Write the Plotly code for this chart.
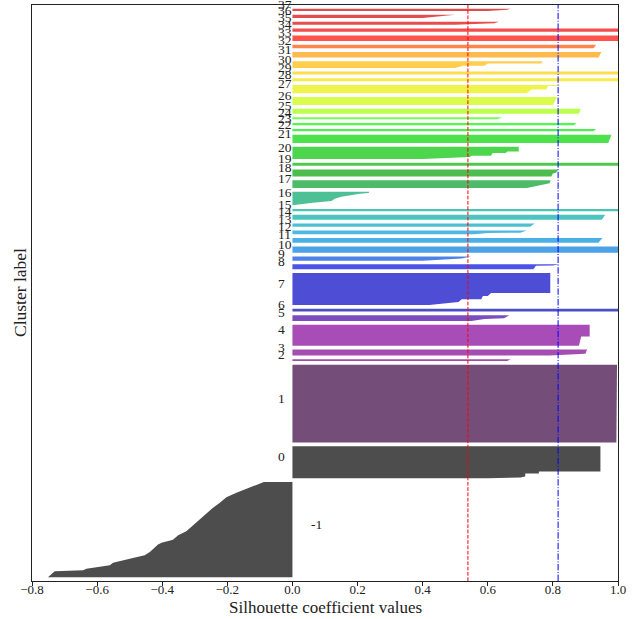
import plotly.graph_objects as go

# ---------------- data ----------------
cluster_ids = list(range(-1, 38))
n_color_clusters = 39

cluster_sizes = [256, 86, 209, 5, 16, 57, 15, 8, 86, 13, 11, 17, 13, 10, 9, 13, 6, 36, 21, 19,
                 8, 33, 22, 6, 6, 5, 13, 22, 22, 8, 8, 18, 15, 9, 15, 9, 8, 9, 6]

# sorted silhouette profile of each cluster: rank (from the lowest value) and value
profile_ranks = [
    [0, 16, 19, 23, 32, 39, 52, 59, 68, 88, 93, 101, 113, 124, 140, 164, 187, 200, 215, 227, 242, 254, 256],
    [0, 2, 5, 13, 13, 18, 18, 86],
    [0, 209],
    [0, 5],
    [0, 3, 5, 16],
    [0, 25, 25, 57],
    [0, 5, 7, 15],
    [0, 8],
    [0, 3, 5, 8, 15, 15, 24, 24, 32, 32, 86],
    [0, 9, 10, 13],
    [0, 3, 6, 11],
    [0, 17],
    [0, 13],
    [0, 3, 4, 10],
    [0, 9],
    [0, 13],
    [0, 6],
    [0, 4, 6.5, 11, 17, 23, 27, 31, 33, 36],
    [0, 3, 6, 9, 13, 21],
    [0, 8, 10, 19],
    [0, 8],
    [0, 2, 5, 5.5, 9, 9, 16, 16, 20.5, 20.5, 33],
    [0, 22],
    [0, 6],
    [0, 6],
    [0, 5],
    [0, 13],
    [0, 22],
    [0, 10, 10, 19, 19, 22],
    [0, 8],
    [0, 8],
    [0, 5.4, 5.4, 12, 12, 18],
    [0, 15],
    [0, 9],
    [0, 15],
    [0, 9],
    [0, 3, 4, 8],
    [0, 3, 6, 9],
    [0, 3, 6],
]
profile_values = [
    [-0.751, -0.73, -0.643, -0.633, -0.561, -0.551, -0.49, -0.454, -0.438, -0.413, -0.402, -0.367,
     -0.351, -0.326, -0.305, -0.275, -0.244, -0.223, -0.203, -0.172, -0.126, -0.090, -0.088],
    [0.60, 0.70, 0.715, 0.715, 0.757, 0.757, 0.946, 0.946],
    [0.995, 0.997],
    [0.66, 0.67],
    [0.79, 0.86, 0.90, 0.905],
    [0.88, 0.887, 0.913, 0.913],
    [0.55, 0.59, 0.65, 0.666],
    [1.0, 1.0],
    [0.42, 0.46, 0.47, 0.51, 0.52, 0.58, 0.585, 0.60, 0.61, 0.792, 0.792],
    [0.74, 0.748, 0.80, 0.82],
    [0.40, 0.47, 0.52, 0.548],
    [1.0, 1.0],
    [0.94, 0.952],
    [0.56, 0.60, 0.70, 0.72],
    [0.73, 0.744],
    [0.95, 0.961],
    [1.0, 1.0],
    [0.0, 0.033, 0.063, 0.12, 0.13, 0.15, 0.176, 0.207, 0.234, 0.236],
    [0.72, 0.735, 0.75, 0.77, 0.79, 0.793],
    [0.795, 0.80, 0.81, 0.816],
    [1.0, 1.0],
    [0.40, 0.46, 0.53, 0.545, 0.55, 0.61, 0.615, 0.655, 0.66, 0.695, 0.695],
    [0.97, 0.98],
    [0.925, 0.933],
    [0.865, 0.872],
    [0.63, 0.644],
    [0.88, 0.886],
    [0.80, 0.813],
    [0.72, 0.734, 0.78, 0.785, 0.82, 0.823],
    [1.0, 1.0],
    [1.0, 1.0],
    [0.50, 0.524, 0.59, 0.60, 0.765, 0.768],
    [0.94, 0.949],
    [0.925, 0.933],
    [1.0, 1.0],
    [1.0, 1.0],
    [0.50, 0.56, 0.62, 0.634],
    [0.40, 0.44, 0.48, 0.50],
    [0.60, 0.66, 0.669],
]

silhouette_avg = 0.539
silhouette_ref = 0.816

x_ticks = [-0.8, -0.6, -0.4, -0.2, 0.0, 0.2, 0.4, 0.6, 0.8, 1.0]
x_tick_labels = ["\u22120.8", "\u22120.6", "\u22120.4", "\u22120.2", "0.0", "0.2", "0.4", "0.6", "0.8", "1.0"]

# ---------------- colormap (nipy_spectral) ----------------
_nipy = {
    'red': [0.0, 0.4667, 0.5333, 0.0, 0.0, 0.0, 0.0, 0.0, 0.0, 0.0, 0.0, 0.0, 0.0, 0.7333, 0.9333,
            1.0, 1.0, 1.0, 0.8667, 0.80, 0.80],
    'green': [0.0, 0.0, 0.0, 0.0, 0.0, 0.4667, 0.6, 0.6667, 0.6667, 0.6, 0.7333, 0.8667, 1.0, 1.0,
              0.9333, 0.8, 0.6, 0.0, 0.0, 0.0, 0.80],
    'blue': [0.0, 0.5333, 0.6, 0.6667, 0.8667, 0.8667, 0.8667, 0.6667, 0.5333, 0.0, 0.0, 0.0, 0.0,
             0.0, 0.0, 0.0, 0.0, 0.0, 0.0, 0.0, 0.80],
}


def nipy_spectral(t, alpha=0.7):
    t = min(max(t, 0.0), 1.0)
    idx = min(int(t * 256), 255)
    t = idx / 255.0
    out = []
    for ch in ('red', 'green', 'blue'):
        arr = _nipy[ch]
        pos = t / 0.05
        i = min(int(pos), 19)
        f = pos - i
        out.append(arr[i] + (arr[i + 1] - arr[i]) * f)
    r, g, b = [round(255 * (alpha * v + (1 - alpha))) for v in out]
    return f"rgb({r},{g},{b})"


# ---------------- figure ----------------
fig = go.Figure()
FONT = "Liberation Serif"
annotations = []
y_lower = 10
for cid, size, ranks, vals in zip(cluster_ids, cluster_sizes, profile_ranks, profile_values):
    ys = [y_lower + r for r in ranks]
    fig.add_trace(go.Scatter(
        x=vals, y=ys, mode="lines", line=dict(width=0), fill="tozerox",
        fillcolor=nipy_spectral(cid / n_color_clusters), hoverinfo="skip", showlegend=False))
    annotations.append(dict(
        x=0.05 if cid == -1 else -0.05, y=y_lower + 0.5 * size, xref="x", yref="y",
        text=str(cid), showarrow=False, xanchor="left", yanchor="bottom", yshift=-4,
        font=dict(family=FONT, size=13.5, color="#222")))
    y_lower = y_lower + size + 10

y_max = sum(cluster_sizes) + (len(cluster_ids) + 1) * 10

annotations.append(dict(
    x=0.5, y=0, xref="paper", yref="paper", text="Silhouette coefficient values",
    showarrow=False, xanchor="center", yanchor="middle", yshift=-26,
    font=dict(family=FONT, size=17, color="#222")))
annotations.append(dict(
    x=0, y=0.5, xref="paper", yref="paper", text="Cluster label", textangle=-90,
    showarrow=False, xanchor="center", yanchor="middle", xshift=-12,
    font=dict(family=FONT, size=17.5, color="#222")))

fig.add_shape(type="line", x0=silhouette_avg, x1=silhouette_avg, y0=0, y1=1, xref="x", yref="paper",
              line=dict(color="red", width=1, dash="3.7px,1.6px"))
fig.add_shape(type="line", x0=silhouette_ref, x1=silhouette_ref, y0=0, y1=1, xref="x", yref="paper",
              line=dict(color="blue", width=1, dash="6.4px,1.6px,1px,1.6px"))

fig.update_layout(
    width=637, height=619,
    margin=dict(l=32, r=19, t=5, b=38),
    plot_bgcolor="white", paper_bgcolor="white",
    annotations=annotations,
    showlegend=False,
    xaxis=dict(range=[-0.8, 1.0], tickvals=x_ticks, ticktext=x_tick_labels, ticks="outside",
               ticklen=4, tickcolor="#222", showgrid=False, zeroline=False, showline=True,
               linecolor="#222", linewidth=1, mirror=True, ticklabelstandoff=-8,
               tickfont=dict(family=FONT, size=13, color="#222")),
    yaxis=dict(range=[0, y_max], showticklabels=False, ticks="", showgrid=False, zeroline=False,
               showline=True, linecolor="#222", linewidth=1, mirror=True),
)

fig.write_html("out.html")
